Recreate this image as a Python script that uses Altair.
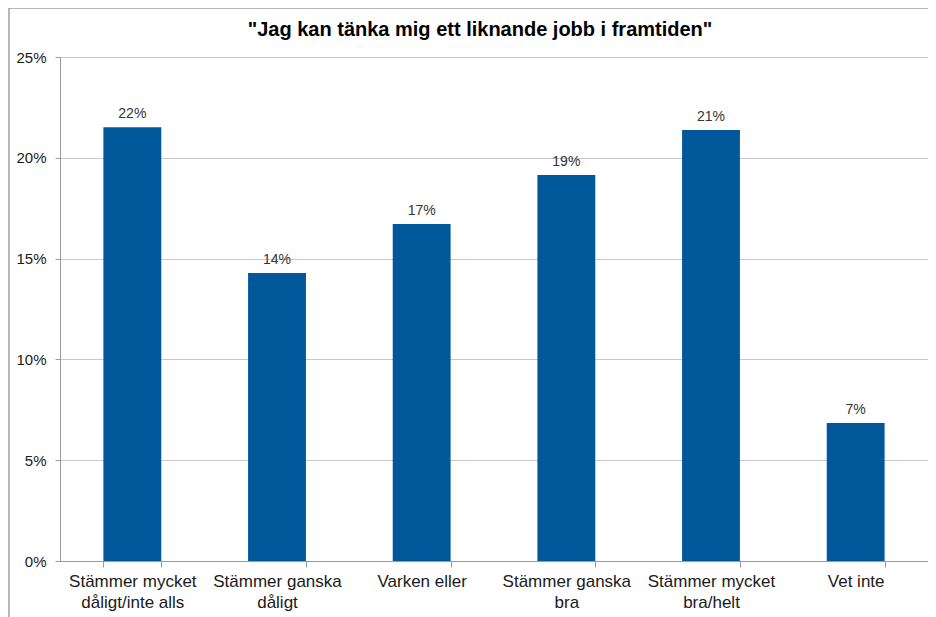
import altair as alt
import pandas as pd

categories = [
    "Stämmer mycket\ndåligt/inte alls",
    "Stämmer ganska\ndåligt",
    "Varken eller",
    "Stämmer ganska\nbra",
    "Stämmer mycket\nbra/helt",
    "Vet inte",
]
values = [0.2152, 0.1429, 0.1672, 0.1915, 0.2138, 0.0685]
title = '"Jag kan tänka mig ett liknande jobb i framtiden"'

df = pd.DataFrame({"cat": categories, "val": values})

W, H = 868, 504
FONT = "Liberation Sans"

x_enc = alt.X(
    "cat:N", sort=categories, title=None,
    scale=alt.Scale(paddingInner=0.6, paddingOuter=0.3),
    axis=alt.Axis(
        labelAngle=0, labelFontSize=17, labelColor="#1a1a1a", labelFont=FONT,
        labelExpr="split(datum.label, '\\n')", labelLineHeight=21,
        labelPadding=6, tickBand="extent", tickSize=6, tickColor="#9a9a9a",
        domainColor="#9a9a9a", grid=False, labelLimit=300,
    ),
)
y_enc = alt.Y(
    "val:Q", title=None,
    scale=alt.Scale(domain=[0, 0.25], nice=False),
    axis=alt.Axis(
        values=[0, 0.05, 0.1, 0.15, 0.2, 0.25], format=".0%",
        labelFontSize=15, labelColor="#1a1a1a", labelFont=FONT, labelPadding=9,
        tickSize=5, tickColor="#9a9a9a", domainColor="#9a9a9a",
        gridColor="#c8c8c8", gridWidth=1,
    ),
)

bars = alt.Chart(df).mark_bar(color="#00589B").encode(x=x_enc, y=y_enc)
labels = alt.Chart(df).mark_text(
    baseline="bottom", dy=-6, fontSize=14, color="#333333", font=FONT
).encode(x=alt.X("cat:N", sort=categories), y="val:Q", text=alt.Text("val:Q", format=".0%"))

one = alt.Data(values=[{}])
frame = alt.Chart(one).mark_rect(
    fill=None, stroke="#a0a0a0", strokeWidth=1.5
).encode(
    x=alt.value(-51), x2=alt.value(W + 20), y=alt.value(-49), y2=alt.value(H + 120)
)
title_mark = alt.Chart(one).mark_text(
    text=title, fontSize=20, font=FONT, fontWeight="bold", color="#000000",
    align="center", baseline="middle"
).encode(x=alt.value(W / 2 - 14), y=alt.value(-27))

chart = alt.layer(frame, title_mark, bars, labels).properties(
    width=W, height=H,
    autosize=alt.AutoSizeParams(type="none"),
    padding={"left": 52, "top": 49, "right": 0, "bottom": 56},
).configure_view(fill="#f2f2f2", stroke=None).configure(background="white")

chart.save("out.html", embed_options={"renderer": "svg", "actions": False})
